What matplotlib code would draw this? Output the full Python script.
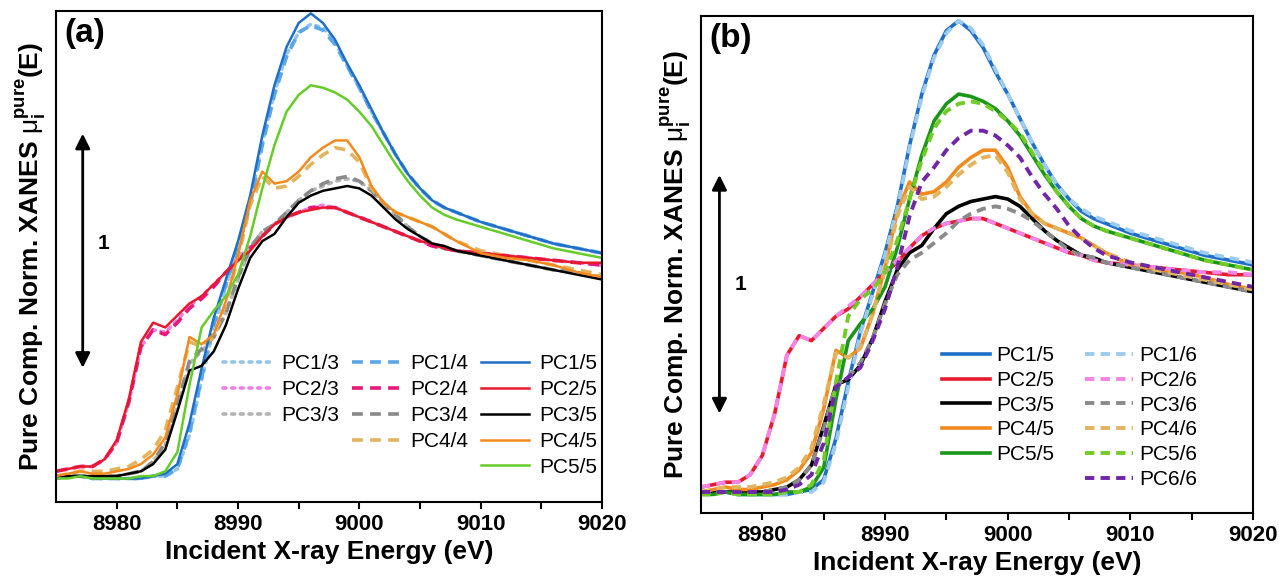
import matplotlib
matplotlib.use("Agg")
import matplotlib.pyplot as plt
from matplotlib.lines import Line2D

plt.rcParams['font.family'] = ['Liberation Sans', 'DejaVu Sans']
plt.rcParams['mathtext.fontset'] = 'custom'
plt.rcParams['mathtext.rm'] = 'Liberation Sans'
plt.rcParams['mathtext.it'] = 'Liberation Sans:italic'
plt.rcParams['mathtext.bf'] = 'Liberation Sans:bold'

# incident energy (eV)
E = [8975, 8976, 8977, 8978, 8979, 8980, 8981, 8982, 8983, 8984, 8985, 8986, 8987, 8988,
     8989, 8990, 8991, 8992, 8993, 8994, 8995, 8996, 8997, 8998, 8999, 9000, 9001, 9002,
     9003, 9004, 9005, 9006, 9007, 9008, 9010, 9012, 9014, 9016, 9018, 9020]

# pure component spectra, name = PC<component>/<number of components>
pc1_3 = [-0.01, 0.00, 0.00, -0.01, -0.01, -0.01, -0.01, -0.01, 0.00, 0.00, 0.03, 0.17, 0.40, 0.62,
         0.79, 0.95, 1.14, 1.39, 1.60, 1.76, 1.85, 1.885, 1.87, 1.81, 1.71, 1.62, 1.52, 1.43,
         1.34, 1.26, 1.20, 1.15, 1.12, 1.10, 1.06, 1.03, 1.00, 0.97, 0.95, 0.93]
pc1_4 = [-0.01, 0.00, 0.00, -0.01, -0.01, -0.01, -0.01, -0.01, 0.00, 0.00, 0.03, 0.18, 0.41, 0.63,
         0.80, 0.95, 1.13, 1.38, 1.59, 1.75, 1.85, 1.88, 1.86, 1.80, 1.71, 1.62, 1.52, 1.43,
         1.34, 1.26, 1.20, 1.15, 1.12, 1.10, 1.06, 1.03, 1.00, 0.97, 0.95, 0.93]
pc1_5 = [-0.01, 0.00, 0.00, -0.01, -0.01, -0.01, -0.01, -0.01, 0.00, 0.01, 0.05, 0.22, 0.45, 0.66,
         0.82, 0.98, 1.17, 1.42, 1.63, 1.79, 1.89, 1.93, 1.89, 1.82, 1.72, 1.63, 1.53, 1.43,
         1.34, 1.26, 1.20, 1.15, 1.12, 1.10, 1.06, 1.03, 1.00, 0.97, 0.95, 0.93]
pc1_6 = [-0.01, 0.00, 0.00, -0.01, -0.01, -0.01, -0.01, -0.01, 0.00, 0.00, 0.04, 0.20, 0.43, 0.65,
         0.81, 0.97, 1.16, 1.41, 1.62, 1.78, 1.88, 1.93, 1.90, 1.83, 1.73, 1.63, 1.53, 1.43,
         1.34, 1.26, 1.20, 1.16, 1.13, 1.11, 1.07, 1.04, 1.01, 0.98, 0.96, 0.94]

pc2_3 = [0.02, 0.03, 0.04, 0.04, 0.07, 0.14, 0.31, 0.54, 0.61, 0.60, 0.65, 0.71, 0.75, 0.80,
         0.85, 0.91, 0.96, 1.01, 1.05, 1.08, 1.10, 1.12, 1.13, 1.12, 1.10, 1.08, 1.06, 1.04,
         1.02, 1.00, 0.98, 0.96, 0.95, 0.94, 0.93, 0.92, 0.91, 0.90, 0.89, 0.88]
pc2_4 = [0.02, 0.03, 0.04, 0.04, 0.07, 0.14, 0.31, 0.54, 0.61, 0.59, 0.64, 0.70, 0.74, 0.79,
         0.85, 0.90, 0.95, 1.00, 1.05, 1.08, 1.10, 1.12, 1.12, 1.12, 1.10, 1.08, 1.06, 1.04,
         1.02, 1.00, 0.98, 0.96, 0.95, 0.94, 0.93, 0.92, 0.91, 0.90, 0.89, 0.88]
pc2_5 = [0.02, 0.03, 0.04, 0.04, 0.07, 0.15, 0.32, 0.56, 0.64, 0.62, 0.67, 0.72, 0.75, 0.80,
         0.85, 0.90, 0.94, 1.00, 1.05, 1.08, 1.10, 1.11, 1.12, 1.12, 1.10, 1.08, 1.06, 1.04,
         1.02, 1.00, 0.98, 0.97, 0.95, 0.94, 0.93, 0.92, 0.91, 0.90, 0.89, 0.89]
pc2_6 = [0.02, 0.03, 0.04, 0.04, 0.07, 0.15, 0.32, 0.56, 0.64, 0.62, 0.67, 0.72, 0.76, 0.80,
         0.85, 0.90, 0.95, 1.00, 1.05, 1.08, 1.10, 1.11, 1.12, 1.12, 1.10, 1.08, 1.06, 1.04,
         1.02, 1.00, 0.98, 0.97, 0.95, 0.94, 0.93, 0.92, 0.91, 0.90, 0.90, 0.89]

pc3_3 = [0.00, 0.00, 0.00, 0.00, 0.00, 0.00, 0.01, 0.02, 0.06, 0.13, 0.29, 0.47, 0.52, 0.58,
         0.68, 0.82, 0.95, 1.02, 1.05, 1.10, 1.15, 1.19, 1.21, 1.23, 1.24, 1.23, 1.19, 1.14,
         1.09, 1.04, 1.00, 0.97, 0.95, 0.94, 0.92, 0.90, 0.88, 0.86, 0.85, 0.83]
pc3_4 = [0.00, 0.00, 0.00, 0.00, 0.00, 0.00, 0.01, 0.02, 0.06, 0.14, 0.30, 0.48, 0.53, 0.58,
         0.68, 0.83, 0.95, 1.02, 1.05, 1.10, 1.15, 1.19, 1.22, 1.24, 1.25, 1.23, 1.19, 1.14,
         1.09, 1.04, 1.00, 0.97, 0.95, 0.94, 0.92, 0.90, 0.88, 0.86, 0.85, 0.83]
pc3_5 = [0.00, 0.00, 0.00, 0.00, 0.00, 0.00, 0.01, 0.02, 0.05, 0.11, 0.27, 0.44, 0.46, 0.52,
         0.63, 0.78, 0.91, 0.98, 1.01, 1.08, 1.14, 1.17, 1.19, 1.20, 1.21, 1.20, 1.17, 1.12,
         1.07, 1.03, 1.00, 0.97, 0.96, 0.94, 0.92, 0.90, 0.88, 0.86, 0.84, 0.82]
pc3_6 = [0.00, 0.00, 0.00, 0.00, 0.00, 0.00, 0.01, 0.02, 0.05, 0.11, 0.26, 0.44, 0.47, 0.53,
         0.63, 0.77, 0.89, 0.95, 0.98, 1.02, 1.06, 1.11, 1.14, 1.16, 1.17, 1.16, 1.14, 1.11,
         1.07, 1.03, 0.99, 0.97, 0.96, 0.94, 0.92, 0.90, 0.88, 0.86, 0.84, 0.82]

pc4_4 = [0.00, 0.01, 0.02, 0.02, 0.02, 0.03, 0.04, 0.07, 0.11, 0.19, 0.37, 0.56, 0.54, 0.58,
         0.72, 0.91, 1.13, 1.25, 1.20, 1.21, 1.25, 1.30, 1.34, 1.37, 1.36, 1.31, 1.20, 1.14,
         1.10, 1.08, 1.06, 1.04, 1.01, 0.98, 0.94, 0.92, 0.90, 0.88, 0.86, 0.84]
pc4_5 = [0.00, 0.01, 0.02, 0.01, 0.01, 0.02, 0.03, 0.05, 0.09, 0.16, 0.34, 0.58, 0.55, 0.59,
         0.73, 0.92, 1.15, 1.27, 1.22, 1.23, 1.27, 1.33, 1.37, 1.40, 1.40, 1.33, 1.21, 1.14,
         1.10, 1.08, 1.06, 1.04, 1.01, 0.98, 0.93, 0.91, 0.90, 0.88, 0.85, 0.83]
pc4_6 = [0.00, 0.01, 0.02, 0.02, 0.02, 0.03, 0.04, 0.06, 0.10, 0.18, 0.36, 0.57, 0.55, 0.59,
         0.73, 0.91, 1.13, 1.25, 1.20, 1.21, 1.25, 1.30, 1.34, 1.37, 1.38, 1.31, 1.20, 1.14,
         1.10, 1.08, 1.06, 1.04, 1.01, 0.98, 0.94, 0.91, 0.89, 0.87, 0.85, 0.83]

pc5_5 = [-0.01, -0.01, 0.00, -0.01, -0.01, -0.01, -0.01, 0.00, 0.00, 0.02, 0.10, 0.38, 0.62, 0.69,
         0.75, 0.84, 1.00, 1.20, 1.38, 1.52, 1.59, 1.63, 1.62, 1.60, 1.57, 1.52, 1.46, 1.38,
         1.30, 1.23, 1.17, 1.12, 1.09, 1.07, 1.04, 1.01, 0.98, 0.95, 0.93, 0.91]
pc5_6 = [-0.01, -0.01, 0.00, -0.01, -0.01, -0.01, -0.01, 0.00, 0.00, 0.03, 0.13, 0.45, 0.72, 0.79,
         0.83, 0.90, 1.03, 1.20, 1.36, 1.49, 1.56, 1.59, 1.60, 1.59, 1.56, 1.52, 1.47, 1.39,
         1.31, 1.23, 1.17, 1.12, 1.09, 1.07, 1.04, 1.01, 0.98, 0.95, 0.93, 0.91]

pc6_6 = [0.00, 0.00, 0.00, 0.00, 0.00, 0.00, 0.00, 0.01, 0.03, 0.07, 0.20, 0.43, 0.47, 0.51,
         0.62, 0.75, 0.92, 1.13, 1.27, 1.33, 1.40, 1.45, 1.48, 1.48, 1.46, 1.42, 1.37, 1.29,
         1.22, 1.16, 1.09, 1.04, 1.00, 0.97, 0.94, 0.92, 0.90, 0.88, 0.86, 0.84]

xticks = [8980, 8990, 9000, 9010, 9020]
ylab = r'Pure Comp. Norm. XANES $\mathrm{μ}_{\mathbf{i}}^{\mathbf{pure}}$(E)'

fig = plt.figure(figsize=(12.79, 5.82), dpi=100)
ax1 = fig.add_axes([0.0438, 0.1375, 0.4269, 0.8436])
ax2 = fig.add_axes([0.5481, 0.1186, 0.4316, 0.8540])

dot = (0, (0.8, 1.6))
dsh_a = (0, (3.0, 2.0))
dsh_b = (0, (2.4, 1.6))

# panel (a)
ax1.plot(E, pc1_3, color='#93c5ea', ls=dot, lw=2.6, dash_capstyle='round', label='PC1/3')
ax1.plot(E, pc2_3, color='#f07fe4', ls=dot, lw=2.6, dash_capstyle='round', label='PC2/3')
ax1.plot(E, pc3_3, color='#b4b4b4', ls=dot, lw=2.6, dash_capstyle='round', label='PC3/3')
ax1.plot(E, pc1_4, color='#5aa6e8', ls=dsh_a, lw=2.6, label='PC1/4')
ax1.plot(E, pc2_4, color='#e8177a', ls=dsh_a, lw=2.6, label='PC2/4')
ax1.plot(E, pc3_4, color='#8a8a8a', ls=dsh_a, lw=2.6, label='PC3/4')
ax1.plot(E, pc4_4, color='#e2b45e', ls=dsh_a, lw=2.6, label='PC4/4')
ax1.plot(E, pc1_5, color='#1f6fc8', lw=1.8, label='PC1/5')
ax1.plot(E, pc2_5, color='#e8192c', lw=1.8, label='PC2/5')
ax1.plot(E, pc3_5, color='#000000', lw=1.8, label='PC3/5')
ax1.plot(E, pc4_5, color='#f28a1e', lw=1.8, label='PC4/5')
ax1.plot(E, pc5_5, color='#66cc2a', lw=1.8, label='PC5/5')

# panel (b)
ax2.plot(E, pc1_5, color='#1f6fc8', lw=2.6, label='PC1/5')
ax2.plot(E, pc2_5, color='#e8192c', lw=2.6, label='PC2/5')
ax2.plot(E, pc3_5, color='#000000', lw=2.6, label='PC3/5')
ax2.plot(E, pc4_5, color='#f28a1e', lw=2.6, label='PC4/5')
ax2.plot(E, pc5_5, color='#1a961a', lw=2.6, label='PC5/5')
ax2.plot(E, pc1_6, color='#9dcbee', ls=dsh_b, lw=2.8, label='PC1/6')
ax2.plot(E, pc2_6, color='#f584e8', ls=dsh_b, lw=2.8, label='PC2/6')
ax2.plot(E, pc3_6, color='#8a8a8a', ls=dsh_b, lw=2.8, label='PC3/6')
ax2.plot(E, pc4_6, color='#e2b45e', ls=dsh_b, lw=2.8, label='PC4/6')
ax2.plot(E, pc5_6, color='#72cc28', ls=dsh_b, lw=2.8, label='PC5/6')
ax2.plot(E, pc6_6, color='#7026a8', ls=dsh_b, lw=2.8, label='PC6/6')

ax1.set_ylim(-0.108, 1.94)
ax2.set_ylim(-0.086, 1.95)

for ax in (ax1, ax2):
    ax.set_xlim(8975, 9020)
    ax.set_xticks(xticks)
    ax.set_xticks([8985, 8995, 9005, 9015], minor=True)
    ax.set_yticks([])
    ax.tick_params(axis='x', which='both', direction='out', width=1.5, labelsize=16)
    ax.tick_params(axis='x', which='major', length=5)
    ax.tick_params(axis='x', which='minor', length=5)
    for lbl in ax.get_xticklabels():
        lbl.set_fontweight('bold')
    for sp in ax.spines.values():
        sp.set_linewidth(1.5)
    ax.set_xlabel('Incident X-ray Energy (eV)', fontsize=19, fontweight='bold', labelpad=4)
    ax.set_ylabel(ylab, fontsize=19, fontweight='bold', labelpad=6)

# scale arrows
ax1.annotate('', xy=(8977.2, 1.44), xytext=(8977.2, 0.44),
             arrowprops=dict(arrowstyle='<|-|>', color='k', lw=2.0, mutation_scale=22))
ax1.text(8978.4, 0.97, '1', fontsize=15, fontweight='bold', va='center', ha='left')
ax2.annotate('', xy=(8976.5, 1.31), xytext=(8976.5, 0.31),
             arrowprops=dict(arrowstyle='<|-|>', color='k', lw=2.0, mutation_scale=22))
ax2.text(8977.7, 0.85, '1', fontsize=15, fontweight='bold', va='center', ha='left')

ax1.text(0.015, 0.985, '(a)', transform=ax1.transAxes, fontsize=24, fontweight='bold',
         va='top', ha='left')
ax2.text(0.015, 0.985, '(b)', transform=ax2.transAxes, fontsize=24, fontweight='bold',
         va='top', ha='left')

# legends, padded with blank entries to get the column layout
blank = Line2D([], [], alpha=0)
h, l = ax1.get_legend_handles_labels()
hd = dict(zip(l, h))
order_a = ['PC1/3', 'PC2/3', 'PC3/3', None, None,
           'PC1/4', 'PC2/4', 'PC3/4', 'PC4/4', None,
           'PC1/5', 'PC2/5', 'PC3/5', 'PC4/5', 'PC5/5']
ax1.legend([hd[k] if k else blank for k in order_a], [k if k else '' for k in order_a],
           ncol=3, loc='upper left', bbox_to_anchor=(0.306, 0.301), frameon=False,
           fontsize=15, handlelength=2.3, handletextpad=0.5, columnspacing=0.6,
           labelspacing=0.33, borderaxespad=0, borderpad=0)

h, l = ax2.get_legend_handles_labels()
hd = dict(zip(l, h))
order_b = ['PC1/5', 'PC2/5', 'PC3/5', 'PC4/5', 'PC5/5', None,
           'PC1/6', 'PC2/6', 'PC3/6', 'PC4/6', 'PC5/6', 'PC6/6']
ax2.legend([hd[k] if k else blank for k in order_b], [k if k else '' for k in order_b],
           ncol=2, loc='upper left', bbox_to_anchor=(0.437, 0.336), frameon=False,
           fontsize=15, handlelength=2.3, handletextpad=0.3, columnspacing=1.45,
           labelspacing=0.28, borderaxespad=0, borderpad=0)

fig.savefig('out.png', dpi=100)
